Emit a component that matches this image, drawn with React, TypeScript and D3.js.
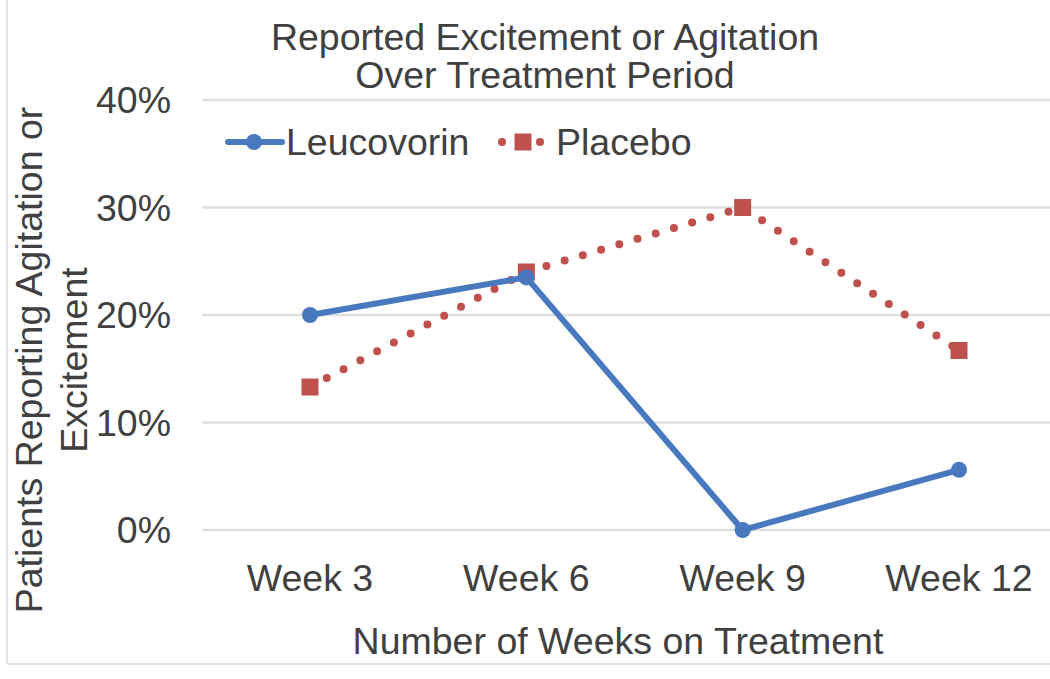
import React from "react";
import * as d3 from "d3";

const categories = ["Week 3", "Week 6", "Week 9", "Week 12"];
const leucovorin = [20, 23.5, 0, 5.6];
const placebo = [13.3, 24, 30, 16.7];
const yTicks = [0, 10, 20, 30, 40];
const titleLines = ["Reported Excitement or Agitation", "Over Treatment Period"];
const yTitleLines = ["Patients Reporting Agitation or", "Excitement"];
const xTitle = "Number of Weeks on Treatment";
const seriesNames = ["Leucovorin", "Placebo"];

const W = 1050;
const H = 679;
const BLUE = "#4878bd";
const RED = "#c0504d";
const TEXT = "#404040";
const FONT = "'Liberation Sans', Arial, sans-serif";
const FS = 37.5;

export default function App() {
  const x = d3.scalePoint<string>().domain(categories).range([310, 959]);
  const y = d3.scaleLinear().domain([0, 40]).range([530, 100]);
  const line = d3
    .line<number>()
    .x((_, i) => x(categories[i]) as number)
    .y((d) => y(d));

  return (
    <svg
      width={W}
      height={H}
      style={{ position: "absolute", left: 0, top: 0, background: "#fff" }}
      fontFamily={FONT}
    >
      <rect x={0} y={0} width={W} height={H} fill="#fff" />
      {/* chart border */}
      <line x1={7} x2={7} y1={0} y2={664} stroke="#d9d9d9" strokeWidth={1.5} />
      <line x1={7} x2={W} y1={664} y2={664} stroke="#d9d9d9" strokeWidth={1.5} />

      {/* title */}
      {titleLines.map((t, i) => (
        <text key={t} x={545} y={50 + i * 38} textAnchor="middle" fontSize={FS} fill={TEXT}>
          {t}
        </text>
      ))}

      {/* gridlines */}
      {yTicks.map((t) => (
        <line key={t} x1={202} x2={W} y1={y(t)} y2={y(t)} stroke="#dedede" strokeWidth={2.5} />
      ))}
      {/* y tick labels */}
      {yTicks.map((t) => (
        <text key={t} x={171} y={y(t) + 13} textAnchor="end" fontSize={FS} fill={TEXT}>
          {`${t}%`}
        </text>
      ))}
      {/* x tick labels */}
      {categories.map((c) => (
        <text key={c} x={x(c)} y={591} textAnchor="middle" fontSize={FS} fill={TEXT}>
          {c}
        </text>
      ))}
      {/* x title */}
      <text x={618} y={654} textAnchor="middle" fontSize={FS} fill={TEXT}>
        {xTitle}
      </text>
      {/* y title */}
      {yTitleLines.map((t, i) => (
        <text
          key={t}
          transform={`translate(${42 + i * 45},360) rotate(-90)`}
          textAnchor="middle"
          fontSize={FS}
          fill={TEXT}
        >
          {t}
        </text>
      ))}

      {/* placebo line */}
      <path
        d={line(placebo) || ""}
        fill="none"
        stroke={RED}
        strokeWidth={8}
        strokeLinecap="round"
        strokeDasharray="0 19"
      />
      {placebo.map((v, i) => (
        <rect
          key={i}
          x={(x(categories[i]) as number) - 8.5}
          y={y(v) - 8.5}
          width={17}
          height={17}
          fill={RED}
        />
      ))}

      {/* leucovorin line */}
      <path d={line(leucovorin) || ""} fill="none" stroke={BLUE} strokeWidth={6} strokeLinejoin="round" />
      {leucovorin.map((v, i) => (
        <circle key={i} cx={x(categories[i])} cy={y(v)} r={8} fill={BLUE} />
      ))}

      {/* legend */}
      <g>
        <line x1={228} x2={282} y1={142} y2={142} stroke={BLUE} strokeWidth={6} strokeLinecap="round" />
        <circle cx={254} cy={142} r={8} fill={BLUE} />
        <text x={286} y={155} fontSize={FS} fill={TEXT}>
          {seriesNames[0]}
        </text>
        <circle cx={502} cy={142} r={4} fill={RED} />
        <circle cx={540} cy={142} r={4} fill={RED} />
        <rect x={514.5} y={133.5} width={17} height={17} fill={RED} />
        <text x={556} y={155} fontSize={FS} fill={TEXT}>
          {seriesNames[1]}
        </text>
      </g>
    </svg>
  );
}
